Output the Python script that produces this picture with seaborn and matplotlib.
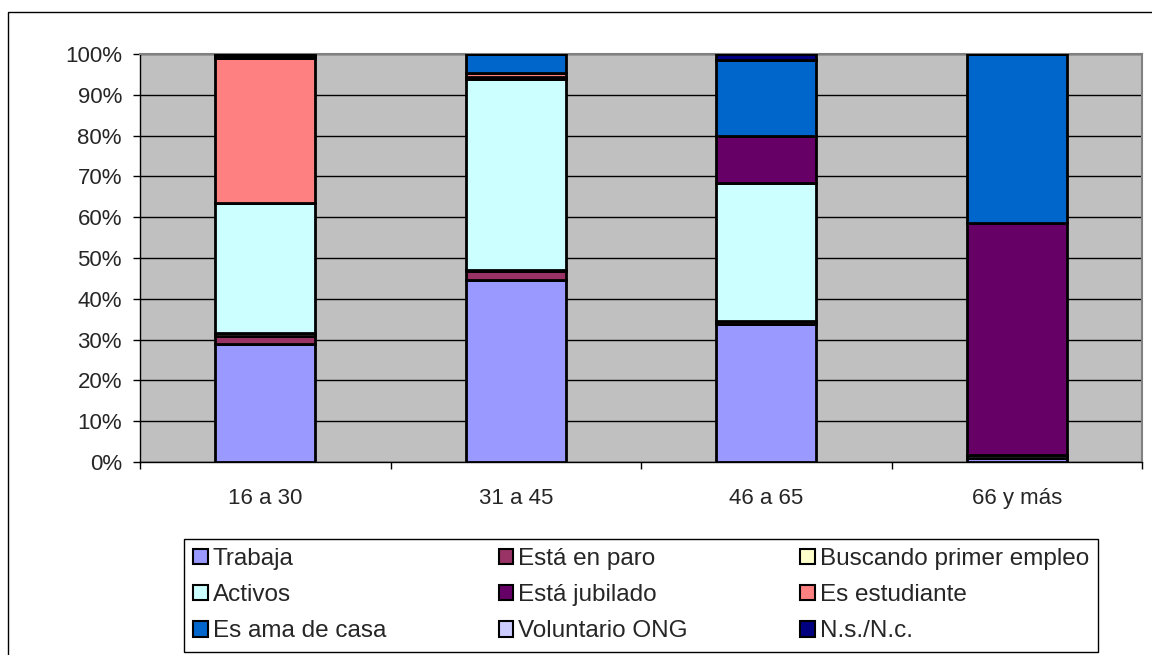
import seaborn as sns
import numpy as np
import pandas as pd
import matplotlib.pyplot as plt
from matplotlib.patches import Rectangle, Patch
from matplotlib.ticker import FixedLocator, PercentFormatter

AGE_GROUPS = ['16 a 30', '31 a 45', '46 a 65', '66 y más']

SERIES = ['Trabaja', 'Está en paro', 'Buscando primer empleo',
          'Activos', 'Está jubilado', 'Es estudiante',
          'Es ama de casa', 'Voluntario ONG', 'N.s./N.c.']

COLORS = ['#9999FF', '#993366', '#FFFFCC',
          '#CCFFFF', '#660066', '#FF8080',
          '#0066CC', '#CCCCFF', '#000080']

# percentages per age group
trabaja = [28.9, 44.6, 33.8, 0.9]
paro = [2.1, 2.3, 0.7, 0.0]
buscando = [0.5, 0.2, 0.0, 0.0]
activos = [31.9, 46.8, 33.8, 0.9]
jubilado = [0.0, 0.5, 11.6, 56.9]
estudiante = [35.5, 0.9, 0.0, 0.0]
ama_de_casa = [0.4, 4.7, 18.6, 41.3]
voluntario = [0.2, 0.0, 0.0, 0.0]
nsnc = [0.5, 0.0, 1.5, 0.0]

values = [trabaja, paro, buscando, activos, jubilado,
          estudiante, ama_de_casa, voluntario, nsnc]

sns.set_style('white')
plt.rcParams['font.family'] = ['Liberation Sans', 'DejaVu Sans']

fig = plt.figure(figsize=(11.52, 6.55), dpi=100)
ax = fig.add_axes([140 / 1152, 1 - 462 / 655, 1002 / 1152, 408 / 655])
ax.set_facecolor('#C0C0C0')

bottom = np.zeros(len(AGE_GROUPS))
for name, vals, col in zip(SERIES, values, COLORS):
    df = pd.DataFrame({'grupo': AGE_GROUPS, 'pct': vals})
    sns.barplot(data=df, x='grupo', y='pct', bottom=bottom, color=col,
                width=0.4, edgecolor='black', linewidth=2, saturation=1,
                ax=ax, zorder=3)
    bottom = bottom + np.array(vals)

ax.set_xlim(-0.5, 3.5)
ax.set_ylim(0, 100)
ax.set_xlabel('')
ax.set_ylabel('')
ax.yaxis.set_major_locator(FixedLocator(np.arange(0, 101, 10)))
ax.yaxis.set_major_formatter(PercentFormatter(decimals=0))
ax.grid(axis='y', color='black', linewidth=1, zorder=1)
ax.set_axisbelow(True)

ax.xaxis.set_minor_locator(FixedLocator(np.arange(-0.5, 3.6, 1)))
ax.tick_params(axis='x', which='major', length=0, pad=19, labelsize=16)
ax.tick_params(axis='x', which='minor', length=5, width=1, color='black',
               direction='out', bottom=True)
ax.tick_params(axis='y', length=5, width=1, color='black', direction='out',
               left=True, pad=8, labelsize=16)

for side in ['top', 'right']:
    ax.spines[side].set_color('#808080')
    ax.spines[side].set_linewidth(1.5)
for side in ['left', 'bottom']:
    ax.spines[side].set_color('black')
    ax.spines[side].set_linewidth(1)

# legend, ordered column-wise to fill rows like the reference
order = [0, 3, 6, 1, 4, 7, 2, 5, 8]
handles = [Patch(facecolor=COLORS[i], edgecolor='black', linewidth=1.5)
           for i in order]
labels = [SERIES[i] for i in order]
fig.legend(handles, labels, ncol=3, loc='upper left', mode='expand',
           bbox_to_anchor=(184 / 1152, 1 - 652 / 655, 914 / 1152, 113 / 655),
           fontsize=17.5, frameon=True, fancybox=False, framealpha=1,
           edgecolor='black', handlelength=0.6, handleheight=0.6,
           handletextpad=0.2, labelspacing=0.58, columnspacing=2,
           borderpad=0.38, borderaxespad=0)

fig.patches.append(Rectangle((8 / 1152, -0.05), 1.1, 1.05 - 12 / 655,
                             transform=fig.transFigure, fill=False,
                             edgecolor='black', linewidth=1))

fig.savefig('out.png', dpi=100, facecolor='white')
